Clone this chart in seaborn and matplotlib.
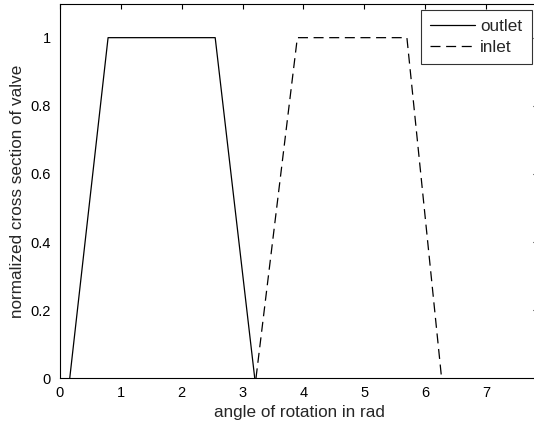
import matplotlib
matplotlib.use("Agg")
import matplotlib.pyplot as plt
import seaborn as sns
import pandas as pd

outlet_x = [0.16, 0.79, 2.55, 3.20]
outlet_y = [0, 1, 1, 0]
inlet_x = [3.22, 3.90, 5.70, 6.27]
inlet_y = [0, 1, 1, 0]
series = ["outlet", "inlet"]
xticks = [0, 1, 2, 3, 4, 5, 6, 7]
yticks = [0, 0.2, 0.4, 0.6, 0.8, 1]
ytick_labels = ["0", "0.2", "0.4", "0.6", "0.8", "1"]

df = pd.concat([
    pd.DataFrame({"x": outlet_x, "y": outlet_y, "s": series[0]}),
    pd.DataFrame({"x": inlet_x, "y": inlet_y, "s": series[1]}),
], ignore_index=True)

sns.set_style("white")
plt.rcParams["font.family"] = ["Liberation Sans", "DejaVu Sans"]

fig = plt.figure(figsize=(5.34, 4.26), dpi=100)
W, H = 534, 426
x_max = 7.854
right_px = 60 + x_max * 60.86
ax = fig.add_axes([60 / W, (H - 378.3) / H, (right_px - 60) / W, (378.3 - 3.6) / H])

sns.lineplot(data=df, x="x", y="y", style="s", hue="s",
             palette={"outlet": "black", "inlet": "black"},
             dashes={"outlet": "", "inlet": (8, 4.5)},
             sort=False, estimator=None, linewidth=0.9, ax=ax, legend=True)

ax.set_xlim(0, x_max)
ax.set_ylim(0, 1.1)
ax.set_xticks(xticks)
ax.set_xticklabels([str(t) for t in xticks])
ax.set_yticks(yticks)
ax.set_yticklabels(ytick_labels)
ax.tick_params(direction="in", length=3.4, width=0.8, colors="black",
               labelsize=10.5, top=True, right=True)
ax.tick_params(axis="y", pad=6.5)
ax.tick_params(axis="x", pad=5.5)
for s in ax.spines.values():
    s.set_color("black")
    s.set_linewidth(0.8)
ax.set_xlabel("angle of rotation in rad", fontsize=12.3, labelpad=4)
ax.set_ylabel("normalized cross section of valve", fontsize=12.3, labelpad=4)

ax_w_px = right_px - 60
handles, labels = ax.get_legend_handles_labels()
leg = ax.legend(handles, labels, loc="upper right",
                bbox_to_anchor=((531.5 - 60) / ax_w_px, (378.3 - 10) / (378.3 - 3.6)),
                frameon=True, fancybox=False, edgecolor="black", fontsize=12.3,
                handlelength=2.6, handletextpad=0.3, borderpad=0.55,
                labelspacing=0.3, borderaxespad=0)
leg.get_frame().set_linewidth(0.8)

fig.savefig("out.png", dpi=100)
